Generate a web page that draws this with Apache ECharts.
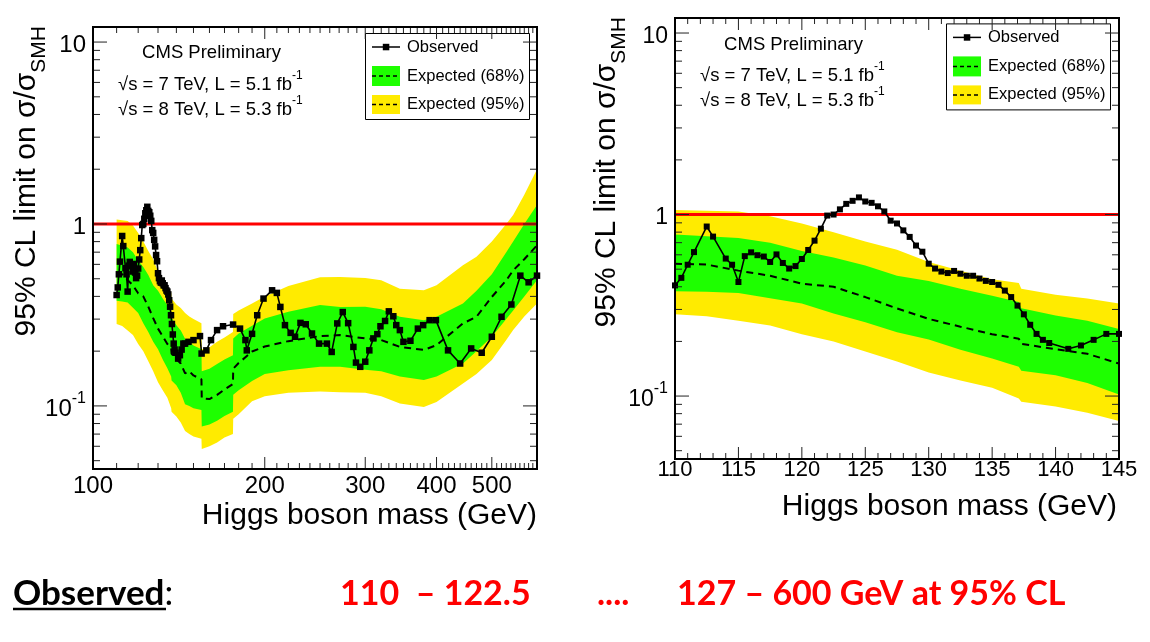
<!DOCTYPE html>
<html><head><meta charset="utf-8">
<script src="https://cdn.jsdelivr.net/npm/echarts@6/dist/echarts.min.js"></script>
<style>html,body{margin:0;padding:0;background:#fff}#c{width:1150px;height:642px}</style>
</head><body><div id="c"></div>
<script>
// ================= DATA =================
// Observed limit, fine scan (shared by both panels, 110-145 GeV)
const fineMass = [110,110.5,111,111.5,112.5,113,114,114.5,115,115.5,116,116.5,117,117.5,118,118.5,119,119.5,120,120.5,121,121.5,122,122.5,123,123.5,124,124.5,125,125.5,126,126.5,127,127.5,128,128.5,129,129.5,130,130.5,131,131.5,132,132.5,133,133.5,134,134.5,135,135.5,136,136.5,137,137.5,138,138.5,139,139.5,141,142,143,144,145];
const fineObserved = [0.407,0.448,0.529,0.621,0.859,0.756,0.572,0.529,0.425,0.590,0.619,0.597,0.587,0.548,0.603,0.541,0.504,0.520,0.569,0.638,0.718,0.836,0.987,1.000,1.068,1.145,1.190,1.243,1.180,1.160,1.110,1.040,0.925,0.893,0.818,0.753,0.675,0.624,0.536,0.504,0.485,0.476,0.489,0.472,0.460,0.460,0.444,0.431,0.425,0.410,0.381,0.351,0.315,0.282,0.247,0.220,0.204,0.196,0.182,0.190,0.204,0.220,0.220];
// Observed limit, wide scan (left panel only, above 145 GeV)
const wideMass = [147,150,154,155,158,161,165,169,176,181,185,186,190,194,199,206,210,213,217,222,226,231,236,242,249,257,262,268,274,280,286,289,294,300,305,310,315,319,325,330,336,340,345,350,360,371,379,389,399,419,440,460,480,500,520,541,561,580,600];
const wideObserved = [0.225,0.230,0.242,0.194,0.202,0.230,0.261,0.274,0.280,0.266,0.230,0.202,0.249,0.315,0.389,0.432,0.418,0.350,0.278,0.252,0.240,0.286,0.281,0.250,0.220,0.220,0.198,0.284,0.328,0.285,0.211,0.173,0.164,0.175,0.202,0.235,0.248,0.274,0.293,0.331,0.311,0.278,0.261,0.225,0.228,0.266,0.278,0.296,0.296,0.202,0.171,0.207,0.196,0.240,0.309,0.361,0.520,0.478,0.520];

// Expected limit and bands, 110-145 GeV
const bandMassFine = [110,112.5,115,117.5,120,122.5,125,127.5,130,132.5,135,137.1,137.3,140,142.5,145];
const exp95UpFine  = [1.06,1.05,1.04,0.98,0.893,0.80,0.711,0.64,0.547,0.49,0.44,0.42,0.39,0.361,0.345,0.324];
const exp68UpFine  = [0.776,0.76,0.743,0.70,0.63,0.58,0.524,0.46,0.43,0.39,0.357,0.33,0.305,0.278,0.26,0.234];
const expMedFine   = [0.536,0.53,0.491,0.46,0.416,0.40,0.351,0.304,0.266,0.241,0.219,0.207,0.194,0.181,0.171,0.151];
const exp68DnFine  = [0.378,0.375,0.37,0.346,0.324,0.285,0.255,0.225,0.205,0.18,0.161,0.145,0.138,0.13,0.118,0.102];
const exp95DnFine  = [0.282,0.275,0.26,0.245,0.219,0.200,0.176,0.155,0.135,0.122,0.111,0.097,0.093,0.0875,0.081,0.0729];
// Expected limit and bands, above 145 GeV (left panel)
const bandMassWide = [147.5,150,154.9,155.1,160,165,170,175.9,176.1,180,190,200,220,250,271,300,320,345,380,400,445,470,500,530,545,570,600];
const exp95UpWide  = [0.31,0.30,0.285,0.205,0.21,0.225,0.238,0.255,0.32,0.335,0.366,0.40,0.456,0.509,0.512,0.505,0.49,0.441,0.432,0.46,0.593,0.66,0.80,1.0,1.12,1.45,2.0];
const exp68UpWide  = [0.225,0.215,0.205,0.155,0.16,0.17,0.18,0.19,0.235,0.25,0.276,0.302,0.329,0.359,0.35,0.351,0.34,0.309,0.296,0.309,0.365,0.43,0.53,0.70,0.80,1.0,1.27];
const expMedWide   = [0.155,0.147,0.14,0.11,0.109,0.115,0.123,0.132,0.16,0.172,0.199,0.212,0.227,0.242,0.245,0.235,0.23,0.211,0.203,0.216,0.284,0.309,0.397,0.49,0.556,0.64,0.763];
const exp68DnWide  = [0.10,0.097,0.095,0.077,0.079,0.083,0.088,0.093,0.115,0.122,0.137,0.15,0.157,0.164,0.164,0.158,0.155,0.145,0.139,0.145,0.171,0.20,0.24,0.30,0.335,0.40,0.49];
const exp95DnWide  = [0.07,0.068,0.066,0.058,0.06,0.063,0.067,0.07,0.085,0.09,0.106,0.113,0.118,0.12,0.119,0.118,0.113,0.103,0.0987,0.105,0.133,0.15,0.179,0.23,0.261,0.31,0.365];

const smRatio = 1;

// Tick labels
const leftXLabels  = [100,200,300,400,500];
const rightXLabels = [110,115,120,125,130,135,140,145];
const yTickValues  = [0.1,1,10];
const yTickLabels  = ['{b|10}{s|-1}','{b|1}','{b|10}'];
const legendLabels = ['Observed','Expected (68%)','Expected (95%)'];

// ================= CHART =================
const FONT = "'Liberation Sans', Arial, Helvetica, sans-serif";
const GREEN = '#1EFF00', YELLOW = '#FFEB00';
const YMIN = 0.045, YMAX = 12.1;
const LX = [100,600], RX = [110,145];

const zip = (a,b) => a.map((v,i)=>[v,b[i]]);

const leftMass = fineMass.concat(wideMass);
const leftObs = fineObserved.concat(wideObserved);
const lbM = bandMassFine.concat(bandMassWide);
const l95u = exp95UpFine.concat(exp95UpWide), l68u = exp68UpFine.concat(exp68UpWide);
const lmed = expMedFine.concat(expMedWide);
const l68d = exp68DnFine.concat(exp68DnWide), l95d = exp95DnFine.concat(exp95DnWide);

function band(gi, mass, up, dn, color, z) {
  const data = mass.map((m,i)=>[m, dn[i], up[i]]);
  return {type:'custom', xAxisIndex:gi, yAxisIndex:gi, z, silent:true, clip:true, data,
    encode:{x:0, y:[1,2]},
    renderItem:(params, api)=>{
      if (params.dataIndex !== 0) return;
      const pts=[];
      for (let i=0;i<data.length;i++) pts.push(api.coord([data[i][0], data[i][2]]));
      for (let i=data.length-1;i>=0;i--) pts.push(api.coord([data[i][0], data[i][1]]));
      return {type:'polygon', shape:{points:pts}, style:{fill:color}};
    }};
}
function median(gi, mass, vals) {
  return {type:'line', xAxisIndex:gi, yAxisIndex:gi, data:zip(mass, vals), symbol:'none', silent:true, z:3,
    lineStyle:{color:'#000', width:2, type:[7,5]}};
}
function observed(gi, mass, vals, size) {
  return {type:'line', xAxisIndex:gi, yAxisIndex:gi, data:zip(mass, vals), symbol:'rect', symbolSize:size,
    showSymbol:true, silent:true, z:5, itemStyle:{color:'#000'}, lineStyle:{color:'#000', width:1.6}};
}
function smLine(gi, xr) {
  return {type:'line', xAxisIndex:gi, yAxisIndex:gi, data:[[xr[0], smRatio],[xr[1], smRatio]], symbol:'none',
    silent:true, z:4, lineStyle:{color:'#FF0000', width:3}};
}
function frame(gi, xr, xMajor, xMinor, xLabels, xFont, xLabOff, yFont) {
  const yMinor = [];
  [0.01,0.1,1].forEach(d=>{ for (let k=2;k<=9;k++) yMinor.push(k*d); });
  return {type:'custom', xAxisIndex:gi, yAxisIndex:gi, z:6, silent:true, clip:false,
    data:[[xr[0], YMIN]],
    renderItem:(params, api)=>{
      const ch = [];
      const seg = (x1,y1,x2,y2)=>ch.push({type:'line', shape:{x1,y1,x2,y2}, style:{stroke:'#222', lineWidth:1}});
      const inX = v => v>=xr[0] && v<=xr[1];
      const inY = v => v>=YMIN && v<=YMAX;
      const addX = (v,len)=>{ if(!inX(v)) return; const b=api.coord([v,YMIN]), t=api.coord([v,YMAX]); seg(b[0],b[1],b[0],b[1]-len); seg(t[0],t[1],t[0],t[1]+len); };
      const addY = (v,len)=>{ if(!inY(v)) return; const l=api.coord([xr[0],v]), r=api.coord([xr[1],v]); seg(l[0],l[1],l[0]+len,l[1]); seg(r[0],r[1],r[0]-len,r[1]); };
      xMajor.forEach(v=>addX(v,12)); xMinor.forEach(v=>addX(v,6));
      yTickValues.forEach(v=>addY(v,14)); yMinor.forEach(v=>addY(v,7));
      const tl = api.coord([xr[0], YMAX]), br = api.coord([xr[1], YMIN]);
      ch.push({type:'rect', shape:{x:tl[0], y:tl[1], width:br[0]-tl[0], height:br[1]-tl[1]}, style:{fill:null, stroke:'#000', lineWidth:2}});
      xLabels.forEach(v=>{ const b=api.coord([v,YMIN]);
        ch.push({type:'text', x:b[0], y:b[1]+xLabOff, style:{text:String(v), fontSize:xFont, fontFamily:FONT, fill:'#000', align:'center', verticalAlign:'middle'}}); });
      yTickValues.forEach((v,i)=>{ const l=api.coord([xr[0],v]);
        ch.push({type:'text', x:l[0]-7, y:l[1], style:{text:yTickLabels[i], align:'right', verticalAlign:'middle',
          rich:{b:{fontSize:yFont, fontFamily:FONT, fill:'#000', lineHeight:yFont+7, verticalAlign:'bottom'},
                s:{fontSize:Math.round(yFont*0.68), fontFamily:FONT, fill:'#000', lineHeight:yFont+7, verticalAlign:'top'}}}}); });
      return {type:'group', children:ch};
    }};
}

const leftXMajor = [100,200,300,400,500,600], leftXMinor = [];
for (let m=110;m<600;m+=10) if (m%100) leftXMinor.push(m);
const rightXMajor = rightXLabels, rightXMinor = [];
for (let m=111;m<145;m++) if (m%5) rightXMinor.push(m);

function txt(x,y,text,size,extra){ return Object.assign({type:'text', x, y, style:Object.assign({text, fontSize:size, fontFamily:FONT, fill:'#000', verticalAlign:'middle'}, extra||{})}); }
function supTxt(x,y,main,sup,size){
  return {type:'text', x, y, style:{text:'{m|'+main+'}{s|'+sup+'}', verticalAlign:'middle', align:'left',
    rich:{m:{fontSize:size, fontFamily:FONT, fill:'#000', lineHeight:size+6, verticalAlign:'bottom'},
          s:{fontSize:Math.round(size*0.65), fontFamily:FONT, fill:'#000', lineHeight:size+6, verticalAlign:'top'}}}};
}
function annot(cx, y0, x0) {
  return [
    txt(cx, y0, 'CMS Preliminary', 18.5, {align:'center'}),
    supTxt(x0, y0+28.3, '\u221As = 7 TeV, L = 5.1 fb', '-1', 18.5),
    supTxt(x0, y0+53.6, '\u221As = 8 TeV, L = 5.3 fb', '-1', 18.5)
  ];
}
function legend(x0, y0) {
  return [
    {type:'rect', shape:{x:x0+0.5, y:y0+0.5, width:164, height:86}, style:{fill:'#fff', stroke:'#000', lineWidth:1}},
    {type:'line', shape:{x1:x0+7, y1:y0+14, x2:x0+35, y2:y0+14}, style:{stroke:'#000', lineWidth:1.5}},
    {type:'rect', shape:{x:x0+17.8, y:y0+10.8, width:6.5, height:6.5}, style:{fill:'#000'}},
    txt(x0+42, y0+14, legendLabels[0], 16.5),
    {type:'rect', shape:{x:x0+7, y:y0+33, width:28, height:20}, style:{fill:GREEN}},
    {type:'line', shape:{x1:x0+7, y1:y0+43, x2:x0+35, y2:y0+43}, style:{stroke:'#000', lineWidth:1.5, lineDash:[4,3]}},
    txt(x0+42, y0+43, legendLabels[1], 16.5),
    {type:'rect', shape:{x:x0+7, y:y0+62, width:28, height:19}, style:{fill:YELLOW}},
    {type:'line', shape:{x1:x0+7, y1:y0+71.5, x2:x0+35, y2:y0+71.5}, style:{stroke:'#000', lineWidth:1.5, lineDash:[4,3]}},
    txt(x0+42, y0+71.5, legendLabels[2], 16.5)
  ];
}
function yTitle(x, y) {
  return {type:'text', x, y, rotation:Math.PI/2, style:{text:'{m|95% CL limit on \u03C3/\u03C3}{s|SMH}', align:'right', verticalAlign:'middle',
    rich:{m:{fontSize:30, fontFamily:FONT, fill:'#000', lineHeight:38, verticalAlign:'top'},
          s:{fontSize:21, fontFamily:FONT, fill:'#000', lineHeight:38, verticalAlign:'bottom'}}}};
}
const BFONT = "Lato, 'Open Sans', sans-serif";
const graphics = [].concat(
  legend(365, 33), legend(946, 23.4),
  annot(211.5, 53.4, 118), annot(793.5, 44.8, 700),
  [ yTitle(30.5, 26), yTitle(611, 17),
    txt(537, 515.5, 'Higgs boson mass (GeV)', 30, {align:'right'}),
    txt(1117, 507, 'Higgs boson mass (GeV)', 30, {align:'right'}),
    {type:'text', x:13, y:594, style:{text:'{b|Observed}{n|:}', verticalAlign:'middle',
      rich:{b:{fontFamily:BFONT, fontWeight:'bold', fontSize:35, fill:'#000'}, n:{fontFamily:BFONT, fontSize:35, fill:'#000'}}}},
    {type:'line', shape:{x1:13, y1:609, x2:166, y2:609}, style:{stroke:'#000', lineWidth:2.5}},
    {type:'text', x:340, y:594, style:{text:'110  \u2013 122.5', fontFamily:BFONT, fontWeight:'bold', fontSize:34, fill:'#FF0000', verticalAlign:'middle'}},
    {type:'text', x:597, y:594, style:{text:'....', fontFamily:BFONT, fontWeight:'bold', fontSize:34, fill:'#FF0000', verticalAlign:'middle'}},
    {type:'text', x:677, y:594, style:{text:'127 \u2013 600 GeV at 95% CL', fontFamily:BFONT, fontWeight:'bold', fontSize:34, fill:'#FF0000', verticalAlign:'middle'}}
  ]);

const axisOff = {axisLine:{show:false}, axisTick:{show:false}, axisLabel:{show:false}, splitLine:{show:false}};
const option = {
  animation:false,
  backgroundColor:'#fff',
  grid:[
    {left:93, top:27, width:444, height:442, outerBoundsMode:'none', containLabel:false},
    {left:675, top:18, width:444, height:441, outerBoundsMode:'none', containLabel:false}
  ],
  xAxis:[
    Object.assign({gridIndex:0, type:'log', logBase:10, min:LX[0], max:LX[1]}, axisOff),
    Object.assign({gridIndex:1, type:'value', min:RX[0], max:RX[1]}, axisOff)
  ],
  yAxis:[
    Object.assign({gridIndex:0, type:'log', logBase:10, min:YMIN, max:YMAX}, axisOff),
    Object.assign({gridIndex:1, type:'log', logBase:10, min:YMIN, max:YMAX}, axisOff)
  ],
  series:[
    band(0, lbM, l95u, l95d, YELLOW, 1),
    band(0, lbM, l68u, l68d, GREEN, 2),
    median(0, lbM, lmed),
    smLine(0, LX),
    observed(0, leftMass, leftObs, 6.5),
    frame(0, LX, leftXMajor, leftXMinor, leftXLabels, 24, 17.5, 24),
    band(1, bandMassFine, exp95UpFine, exp95DnFine, YELLOW, 1),
    band(1, bandMassFine, exp68UpFine, exp68DnFine, GREEN, 2),
    median(1, bandMassFine, expMedFine),
    smLine(1, RX),
    observed(1, fineMass, fineObserved, 6),
    frame(1, RX, rightXMajor, rightXMinor, rightXLabels, 22, 11, 23)
  ],
  graphic:{elements:graphics}
};
const chart = echarts.init(document.getElementById('c'));
chart.setOption(option);
</script>
</body></html>
